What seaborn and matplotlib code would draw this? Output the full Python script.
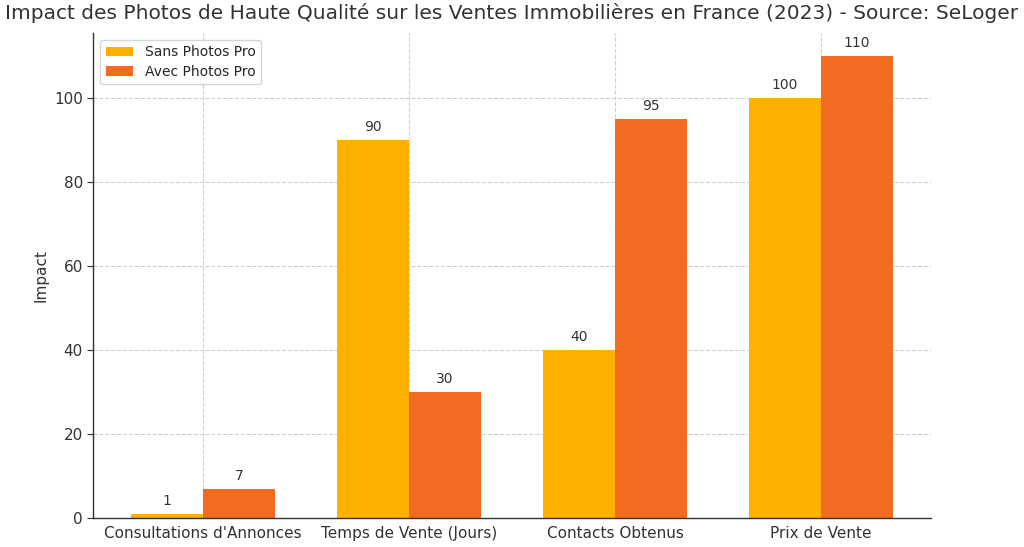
import numpy as np
import matplotlib
matplotlib.use("Agg")
import matplotlib.pyplot as plt
import seaborn as sns

categories = ["Consultations d'Annonces", "Temps de Vente (Jours)", "Contacts Obtenus", "Prix de Vente"]
sans_photos = [1, 90, 40, 100]
avec_photos = [7, 30, 95, 110]

sns.set_style("whitegrid", {"grid.linestyle": "--", "grid.color": "#d0d0d0"})
plt.rcParams['font.family'] = ['DejaVu Sans']

fig, ax = plt.subplots(figsize=(10.24, 5.47), dpi=100)
fig.subplots_adjust(left=0.091, right=0.909, bottom=0.053, top=0.94)

x = np.arange(len(categories))
width = 0.35
b1 = ax.bar(x - width / 2, sans_photos, width, label="Sans Photos Pro", color="#FFB000", linewidth=0)
b2 = ax.bar(x + width / 2, avec_photos, width, label="Avec Photos Pro", color="#F26B21", linewidth=0)

for bars in (b1, b2):
    for bar in bars:
        h = bar.get_height()
        ax.annotate(f"{h}", xy=(bar.get_x() + bar.get_width() / 2, h), xytext=(0, 4),
                    textcoords="offset points", ha="center", va="bottom", fontsize=10, color="#333333")

ax.set_xticks(x)
ax.set_xticklabels(categories, fontsize=11, color="#333333")
ax.tick_params(axis="y", labelsize=11, colors="#333333", left=True, length=4)
ax.tick_params(axis="x", bottom=False, pad=2)
ax.set_ylabel("Impact", fontsize=11, color="#333333")
ax.set_ylim(0, 115.5)
ax.set_xlim(-0.534, 3.534)
ax.grid(True, linestyle="--", color="#d0d0d0")
ax.set_axisbelow(True)
for s in ("top", "right"):
    ax.spines[s].set_visible(False)
for s in ("left", "bottom"):
    ax.spines[s].set_color("#333333")
    ax.spines[s].set_linewidth(1.0)

fig.suptitle("Impact des Photos de Haute Qualité sur les Ventes Immobilières en France (2023) - Source: SeLoger",
             fontsize=14.5, color="#333333", y=0.995)
ax.legend(loc="upper left", fontsize=10, frameon=True, handlelength=2.0, borderpad=0.4, labelspacing=0.4)

fig.savefig("out.png", dpi=100)
